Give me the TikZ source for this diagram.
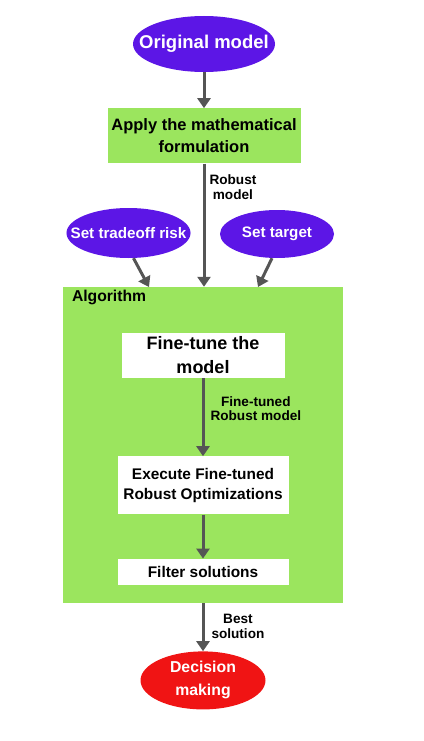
\documentclass[tikz,border=0pt]{standalone}
\usepackage{fontspec}
\setmainfont{Liberation Sans}
\usetikzlibrary{positioning,shapes.geometric,arrows.meta}
\definecolor{ovalpurple}{RGB}{92,22,230}
\definecolor{boxgreen}{RGB}{155,229,94}
\definecolor{decisionred}{RGB}{240,20,20}
\definecolor{arrowgray}{RGB}{85,85,85}

\begin{document}
\begin{tikzpicture}[x=1pt, y=1pt,
		oval/.style={ellipse, fill=ovalpurple, text=white, inner sep=0pt, align=center, font=\bfseries\fontsize{15.2}{18}\selectfont},
		box/.style={rectangle, fill=white, inner sep=0pt, align=center, font=\bfseries\fontsize{15.4}{20}\selectfont},
		lbl/.style={inner sep=0pt, align=center, text=black, font=\bfseries\fontsize{13.6}{14.5}\selectfont},
		arrow/.style={-{Triangle[length=10pt, width=13pt]}, line width=3pt, arrowgray}
		]
		
		\useasboundingbox (0,0) rectangle (423,-741);
		
		\node[oval, inner xsep=-15pt, minimum width=142pt, minimum height=56pt, font=\bfseries\fontsize{18.5}{22}\selectfont] (original) at (204,-44) {Original model};
		\node[box, fill=boxgreen, minimum width=193pt, minimum height=55pt, font=\bfseries\fontsize{16.5}{22}\selectfont] (formulation) [below=36pt of original] {Apply the mathematical\\formulation};
		\node[oval, inner xsep=-14pt, minimum width=123pt, minimum height=50pt] (tradeoff) at (128.5,-233) {Set tradeoff risk};
		\node[oval, minimum width=114pt, minimum height=48pt] (target) at (277,-234) {Set target};
		\node[rectangle, fill=boxgreen, minimum width=280pt, minimum height=316pt] (algorithm) at (203,-445) {};
		\node[inner sep=0pt, anchor=north west, font=\bfseries\fontsize{15.7}{18}\selectfont] (algotitle) at ([xshift=9pt, yshift=-3pt]algorithm.north west) {Algorithm};
		\node[box, minimum width=163pt, minimum height=45pt, font=\bfseries\fontsize{18}{24}\selectfont] (finetune) [below=46pt of algorithm.north] {Fine-tune the\\model};
		\node[box, minimum width=171pt, minimum height=58pt] (execute) [below=78pt of finetune] {Execute Fine-tuned\\Robust Optimizations};
		\node[box, minimum width=171pt, minimum height=26pt] (filter) [below=44pt of execute] {Filter solutions};
		\node[oval, fill=decisionred, minimum width=125pt, minimum height=58pt, font=\bfseries\fontsize{15.8}{23}\selectfont] (decision) [below=48pt of algorithm] {Decision\\making};
		
		\coordinate (riskin) at (149,-287);
		\coordinate (targetin) at (258,-287);
		
		\draw[arrow] (original) -- (formulation);
		\draw[arrow] (formulation) -- (formulation |- algorithm.north) node[lbl, right=4pt, pos=0.19] {Robust\\model};
		\draw[arrow] ([xshift=5pt]tradeoff.south) -- (riskin);
		\draw[arrow] ([xshift=-5pt]target.south) -- (targetin);
		\draw[arrow] (finetune) -- (execute) node[lbl, right=6pt, pos=0.39] {Fine-tuned\\Robust model};
		\draw[arrow] (execute) -- (filter);
		\draw[arrow] (algorithm) -- (decision) node[lbl, right=7pt, pos=0.48] {Best\\solution};
		
	\end{tikzpicture}
\end{document}
